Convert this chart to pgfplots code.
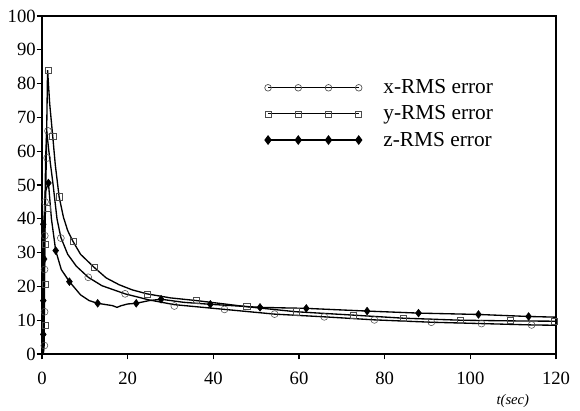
\documentclass[border=0pt]{standalone}
\usepackage{pgfplots}
\pgfplotsset{compat=1.18}
\usepackage{fontspec}
\setmainfont{Liberation Serif}

% ---- RMS error curves (seconds, error) ----
\begin{document}
\begin{tikzpicture}
\path[use as bounding box] (-31.5pt,-42pt) rectangle (403.5pt,265.5pt);
\begin{axis}[
  at={(0,0)}, anchor=south west,
  scale only axis, width=385.5pt, height=253.5pt,
  xmin=0, xmax=120, ymin=0, ymax=100,
  xtick={0,20,...,120}, ytick={0,10,...,100},
  xtick pos=bottom, ytick pos=left,
  tick align=outside, major tick length=4pt,
  axis line style={line width=0.8pt},
  tick style={line width=0.8pt, black},
  /pgf/number format/assume math mode=true,
  ticklabel style={font=\fontsize{14}{16}\selectfont},
  yticklabel style={inner sep=0.5pt},
  xticklabel style={inner sep=0pt, yshift=-9pt},
  xlabel={\textit{t(sec)}},
  xlabel style={at={(axis description cs:0.916,0)}, anchor=center,
    yshift=-35.5pt, font=\fontsize{11}{13}\selectfont},
  legend style={at={(0.425,0.828)}, anchor=north west, draw=none, fill=none,
    font=\fontsize{16}{18}\selectfont, row sep=3.5pt,
    nodes={inner sep=2pt}},
  legend cell align=left,
  legend image code/.code={
    \draw[mark repeat=1,#1] plot coordinates {(0pt,0pt) (22.67pt,0pt) (45.33pt,0pt) (68pt,0pt)};
  },
]

% x-RMS error curve
\addplot[black, line width=1pt, forget plot] coordinates {
 (0.3,0) (0.5,2.5) (0.55,12.5) (0.6,25) (0.65,35) (0.7,45) (0.85,58) (1.1,66)
 (1.6,60) (2.6,50) (3.5,40) (4.4,34.5) (6,29.5) (8,26) (10.8,22.7) (14,20.2)
 (19.4,17.8) (25,16) (30.9,14.6) (42.6,13.2) (54.3,11.8) (65.9,11.0) (77.6,10.1)
 (90.9,9.4) (102.6,9.0) (114.3,8.6) (120,8.5)};
% y-RMS error curve
\addplot[black, line width=1pt, forget plot] coordinates {
 (0.3,0) (0.45,8.4) (0.55,20.7) (0.65,32.4) (0.8,43) (1.0,58) (1.3,84) (1.8,74)
 (2.5,64.5) (3.1,56) (4,46.5) (5,40.5) (6,36.5) (7.2,33.4) (9,29.5) (12.2,25.6)
 (15,22.5) (18,20.5) (21,19) (24.5,17.8) (30,16.6) (36.1,15.8) (47.8,14)
 (59.3,12.5) (72.7,11.5) (84.3,10.6) (97.7,10.0) (109.3,9.8) (120,9.7)};
% z-RMS error curve
\addplot[black, line width=1pt, forget plot] coordinates {
 (0.2,0) (0.3,6) (0.3,16) (0.35,28) (0.4,38.4) (0.8,48) (1.5,50.7) (2.2,40)
 (3.2,30.6) (4.5,25) (6.4,21.4) (9,17.5) (11,15.8) (13,15) (15,14.6) (16.5,14.3)
 (17.5,13.8) (18.5,14.3) (20,14.8) (22,15) (25,15.8) (27.8,16.2) (33,15.3)
 (39.3,14.7) (50.9,13.8) (61.7,13.5) (75.9,12.7) (87.9,12.1) (101.9,11.7)
 (113.6,11.1) (120,10.9)};

% sample markers
\addplot[only marks, mark=o, mark size=2.6pt, black!70, forget plot] coordinates {
 (0.55,2.5) (0.6,12.5) (0.6,25) (0.65,35) (0.7,45) (1.2,58) (1.4,66)
 (4.4,34.3) (10.8,22.7) (19.4,17.8) (30.9,14.2) (42.6,13.2) (54.3,11.8)
 (65.9,11.0) (77.6,10.1) (90.9,9.4) (102.6,9.0) (114.3,8.6)};
\addplot[only marks, mark=square, mark size=2.3pt, black!70, forget plot] coordinates {
 (0.85,8.4) (0.85,20.7) (0.85,32.4) (1.3,43.1) (1.5,84) (2.5,64.5) (4.0,46.5)
 (7.2,33.4) (12.2,25.6) (24.5,17.8) (36.1,15.8) (47.8,14.0) (59.3,12.5)
 (72.7,11.5) (84.3,10.6) (97.7,10.0) (109.3,10.0) (119.6,9.7)};
\addplot[only marks, mark=diamond*, mark size=2.9pt, black, forget plot] coordinates {
 (0.3,5.8) (0.3,15.8) (0.5,28.1) (0.3,38.4) (1.5,50.6) (3.2,30.6) (6.4,21.4)
 (13.0,15.0) (22.0,15.0) (27.8,16.2) (39.3,14.7) (50.9,13.8) (61.7,13.5)
 (75.9,12.7) (87.9,12.1) (101.9,11.7) (113.6,11.1)};

\addlegendimage{black, line width=1pt, mark=o, mark size=2.5pt,
  mark options={black!70, line width=0.5pt}}
\addlegendentry{\hspace*{14pt}x-RMS error}
\addlegendimage{black, line width=0.7pt, mark=square, mark size=2.2pt,
  mark options={black!70, line width=0.5pt}}
\addlegendentry{\hspace*{14pt}y-RMS error}
\addlegendimage{black, line width=1pt, mark=diamond*, mark size=2.9pt}
\addlegendentry{\hspace*{14pt}z-RMS error}
\end{axis}
\end{tikzpicture}
\end{document}
